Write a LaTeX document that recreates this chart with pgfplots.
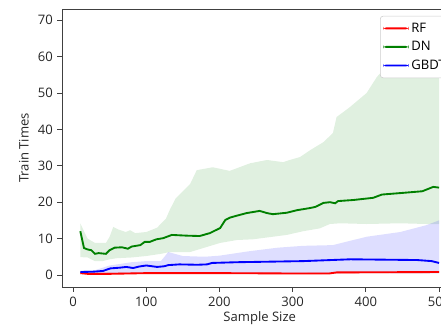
\documentclass[border=0pt]{standalone}
\usepackage{pgfplots}
\pgfplotsset{compat=1.18}
\usepackage{pgfplotstable}
\usepgfplotslibrary{fillbetween}
\usepackage{fontspec}
\setmainfont{Open Sans}
\definecolor{mred}{rgb}{1,0,0}
\definecolor{mgreen}{rgb}{0,0.5,0}
\definecolor{mblue}{rgb}{0,0,1}

\pgfplotstableread{
x y
10 0.5
20 0.3
50 0.3
100 0.5
200 0.5
300 0.4
350 0.4
360 0.7
500 0.8
}\rfline
\pgfplotstableread{
x lo hi
10 0.3 0.7
100 0.3 0.8
200 0.3 0.8
300 0.2 0.7
500 0.5 1.1
}\rfband
\pgfplotstableread{
x y
10 12.0
15 7.4
20 7.0
25 6.8
30 5.8
35 6.0
45 5.8
50 6.8
57 7.5
67 7.6
75 7.2
80 7.8
92 8.2
98 9.1
105 9.1
114 9.8
123 10.1
135 11.0
155 10.8
173 10.7
187 11.5
201 12.9
208 15.1
215 15.8
224 16.3
237 17.0
255 17.6
265 17.0
273 16.7
292 17.1
306 17.8
324 18.4
331 18.7
342 19.8
351 20.0
358 19.7
362 20.3
383 20.6
410 21.2
422 22.1
447 22.5
477 23.0
492 24.2
500 24.0
}\dnline
\pgfplotstableread{
x hi
10 14.2
15 12.0
20 10.0
30 8.8
45 8.8
50 10.5
55 13.2
62 12.5
72 11.8
78 12.3
85 11.5
100 11.8
115 13.0
122 14.5
127 15.5
132 17.8
140 21.0
150 23.0
160 25.0
169 28.8
191 29.6
214 28.6
242 30.7
265 31.6
287 31.0
296 31.6
310 32.4
324 34.3
342 36.5
355 39.0
360 43.4
378 46.1
401 50.0
415 54.4
440 60.0
470 65.0
500 69.6
}\dnhi
\pgfplotstableread{
x lo
10 4.9
20 4.8
30 3.8
40 3.8
50 4.3
60 4.6
80 4.8
100 5.2
120 5.8
132 6.3
160 6.3
178 7.4
201 8.8
224 9.6
246 9.8
269 10.4
292 11.0
314 12.0
337 12.8
351 14.0
365 14.2
401 14.0
447 14.2
483 14.0
500 14.0
}\dnlo
\pgfplotstableread{
x y
10 0.8
28 0.9
41 1.1
51 1.8
64 2.0
73 2.2
82 1.9
90 2.3
100 2.6
115 2.2
125 2.4
130 2.7
145 2.9
170 2.8
183 2.9
190 3.3
224 3.5
314 3.8
379 4.3
470 4.1
490 3.8
500 3.3
}\gbline
\pgfplotstableread{
x hi
10 1.2
30 1.3
50 2.6
80 3.5
100 3.8
120 3.8
125 5.0
130 6.3
150 5.2
180 5.0
200 5.3
240 6.5
280 7.5
314 8.0
355 8.2
401 10.5
447 11.8
483 13.7
500 15.0
}\gbhi
\pgfplotstableread{
x lo
10 0.4
100 0.4
200 0.5
300 0.4
400 0.5
500 0.4
}\gblo

\begin{document}
\begin{tikzpicture}
\begin{axis}[name=ax, scale only axis, width=296pt, height=208.5pt,
  xmin=-14.5, xmax=524.5, ymin=-3.3, ymax=73.1,
  xtick={0,100,...,500}, ytick={0,10,...,70},
  xtick pos=lower, ytick pos=left,
  tick align=outside, major tick length=3.7pt,
  tick style={black!75, line width=0.6pt},
  axis line style={black!75, line width=0.6pt},
  /pgf/number format/assume math mode=true,
  ticklabel style={font=\fontsize{9.8}{11}\selectfont, text=black!85},
  label style={font=\fontsize{9.8}{11}\selectfont, text=black!85},
  xlabel={Sample Size}, ylabel={Train Times},
  xlabel style={yshift=2.6pt},
  legend style={at={(rel axis cs:0.986,0.975)}, anchor=north east,
    draw=black!20, rounded corners=2pt, fill=white,
    font=\fontsize{9.8}{11}\selectfont, inner sep=2.2pt,
    nodes={inner ysep=2.7pt}},
  legend cell align=left,
  legend image code/.code={\fill[#1, draw=none] (0pt,-0.7pt) rectangle (19pt,0.7pt);},
]
\addplot[name path=rfh, draw=none, forget plot] table[x=x,y=hi]{\rfband};
\addplot[name path=rfl, draw=none, forget plot] table[x=x,y=lo]{\rfband};
\addplot[fill=mred, fill opacity=0.12, forget plot] fill between[of=rfh and rfl];
\addplot[name path=dnh, draw=none, forget plot] table[x=x,y=hi]{\dnhi};
\addplot[name path=dnl, draw=none, forget plot] table[x=x,y=lo]{\dnlo};
\addplot[fill=mgreen, fill opacity=0.12, forget plot] fill between[of=dnh and dnl];
\addplot[name path=gbh, draw=none, forget plot] table[x=x,y=hi]{\gbhi};
\addplot[name path=gbl, draw=none, forget plot] table[x=x,y=lo]{\gblo};
\addplot[fill=mblue, fill opacity=0.13, forget plot] fill between[of=gbh and gbl];
\addplot[mred, line width=1.4pt, no marks] table[x=x,y=y]{\rfline};
\addlegendentry{RF}
\addplot[mgreen, line width=1.4pt, no marks] table[x=x,y=y]{\dnline};
\addlegendentry{DN}
\addplot[mblue, line width=1.4pt, no marks] table[x=x,y=y]{\gbline};
\addlegendentry{GBDT}
\end{axis}
\pgfresetboundingbox
\useasboundingbox ([xshift=-46.8pt, yshift=-29.25pt]ax.south west) rectangle ([xshift=-12pt, yshift=6.75pt]ax.north east);
\end{tikzpicture}
\end{document}
